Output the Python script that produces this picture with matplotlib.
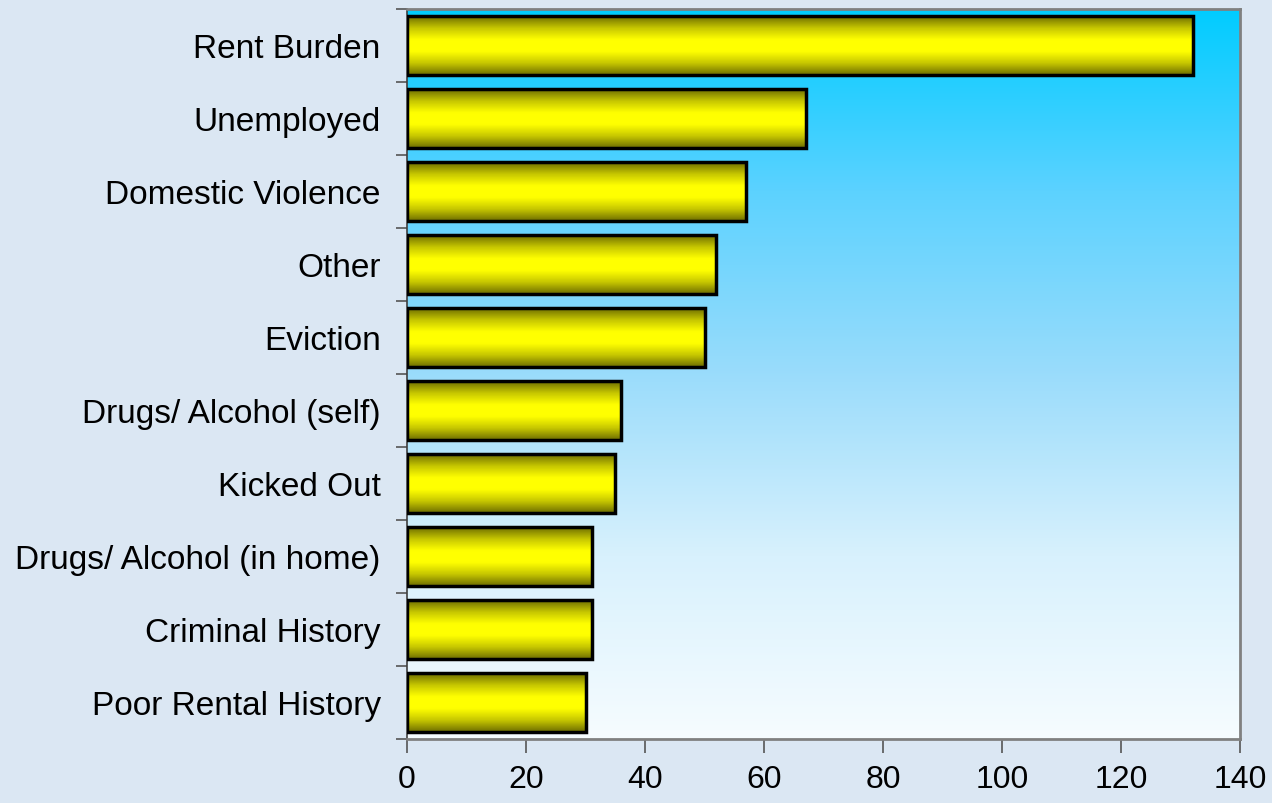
import numpy as np
import matplotlib
matplotlib.use('Agg')
import matplotlib.pyplot as plt
from matplotlib.colors import LinearSegmentedColormap

# Reasons for homelessness (counts)
categories = ['Rent Burden', 'Unemployed', 'Domestic Violence', 'Other', 'Eviction',
              'Drugs/ Alcohol (self)', 'Kicked Out', 'Drugs/ Alcohol (in home)',
              'Criminal History', 'Poor Rental History']
values = [132, 67, 57, 52, 50, 36, 35, 31, 31, 30]
xticks = [0, 20, 40, 60, 80, 100, 120, 140]

fig = plt.figure(figsize=(12.72, 8.04), dpi=100)
fig.patch.set_facecolor('#dbe7f3')
ax = fig.add_axes([0.32, 0.0796, 0.655, 0.908])

n = len(categories)
ypos = np.arange(n)[::-1]

# gradient background for the plot area (white at bottom -> cyan at top)
bg = LinearSegmentedColormap.from_list('bg', ['#f6fcff', '#d8f1fd', '#9adcfb', '#5cd2ff', '#00ccff'])
grad = np.linspace(0, 1, 256).reshape(-1, 1)
ax.imshow(grad, cmap=bg, aspect='auto', extent=[0, 140, -0.5, n - 0.5],
          origin='lower', zorder=0)

# yellow bars with a shaded cylinder look
bar_cmap = LinearSegmentedColormap.from_list('bar', ['#707000', '#c8c800', '#ffff00',
                                                    '#ffff00', '#c8c800', '#707000'])
shade = np.linspace(0, 1, 64).reshape(-1, 1)
bars = ax.barh(ypos, values, height=0.8, color='none', edgecolor='black',
               linewidth=2.5, zorder=3)
for b in bars:
    x0, y0 = b.get_x(), b.get_y()
    im = ax.imshow(shade, cmap=bar_cmap, aspect='auto',
                   extent=[x0, x0 + b.get_width(), y0, y0 + b.get_height()],
                   origin='lower', zorder=2)
    im.set_clip_path(b)

ax.set_xlim(0, 140)
ax.set_ylim(-0.5, n - 0.5)
ax.set_xticks(xticks)
ax.set_xticklabels([str(t) for t in xticks], fontsize=23, family='Liberation Sans')
ax.set_yticks(ypos)
ax.set_yticklabels(categories, fontsize=24, family='Liberation Sans')
ax.set_yticks(np.arange(n + 1) - 0.5, minor=True)
ax.tick_params(axis='y', which='major', length=0, pad=19)
ax.tick_params(axis='y', which='minor', length=8, width=1.2, color='#555555', direction='out')
ax.tick_params(axis='x', length=10, width=1.2, color='#555555', direction='out', pad=8)

for s in ax.spines.values():
    s.set_color('#808080')
    s.set_linewidth(2)
ax.spines['left'].set_color('#404040')
ax.spines['left'].set_linewidth(1.2)

fig.savefig('out.png', dpi=100, facecolor=fig.get_facecolor())
